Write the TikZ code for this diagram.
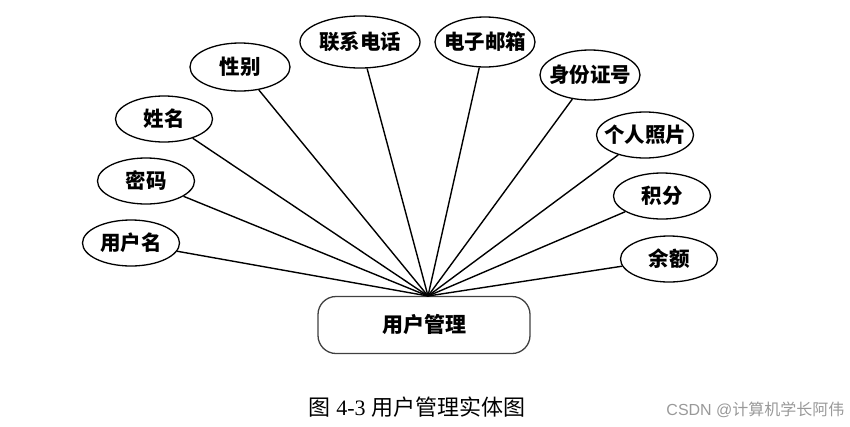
\documentclass[tikz,border=0pt]{standalone}
\usepackage{fontspec}
\setmainfont{Liberation Serif}
\newfontfamily\cjk{Noto Sans CJK SC}
\newfontfamily\wmfont{Liberation Sans}
\usetikzlibrary{shapes.geometric}
\begin{document}
\begin{tikzpicture}[x=1pt,y=-1pt,
  attr/.style={ellipse,draw,line width=1.3pt,minimum width=#1,minimum height=46pt,inner xsep=-7pt,inner ysep=0pt,font=\cjk\fontsize{20.5}{22}\selectfont\bfseries},
  attr/.default=97pt,
  entity/.style={rounded corners=18pt,draw=black!75,line width=1.3pt,minimum width=212pt,minimum height=57pt,font=\cjk\fontsize{21}{23}\selectfont\bfseries},
  link/.style={line width=1.4pt}]
\useasboundingbox (0,0) rectangle (850,426);
\node[entity] (e) at (424,325) {用户管理};
\coordinate (hub) at (428,296);
\node[attr] (a1) at (131,243) {用户名};
\node[attr] (a2) at (146,181) {密码};
\node[attr] (a3) at (164,119) {姓名};
\node[attr=100pt,minimum height=48pt] (a4) at (240,67) {性别};
\node[attr=120pt,minimum height=52pt] (a5) at (360,42) {联系电话};
\node[attr=100pt,minimum height=50pt] (a6) at (485,42) {电子邮箱};
\node[attr=100pt,minimum height=50pt] (a7) at (590,75) {身份证号};
\node[attr] (a8) at (645,135) {个人照片};
\node[attr] (a9) at (662,196) {积分};
\node[attr] (a10) at (669,259) {余额};
\foreach \i in {1,...,10} \draw[link] (a\i) -- (hub);
\node (cap) at (417,407) {\fontsize{22}{24}\selectfont{\cjk 图} 4-3 {\cjk 用户管理实体图}};
\node[text=black!40,anchor=east] (wm) at (848,410) {\fontsize{16}{18}\selectfont{\wmfont CSDN @}{\cjk 计算机学长阿伟}};
\end{tikzpicture}
\end{document}
